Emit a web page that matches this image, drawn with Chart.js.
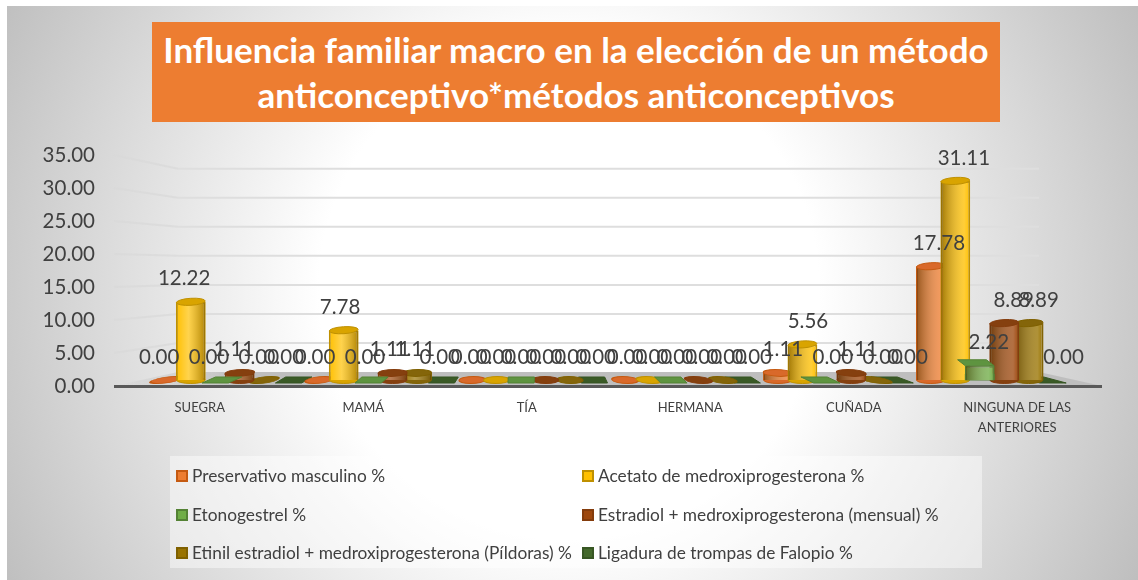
<!DOCTYPE html>
<html lang="es">
<head>
<meta charset="utf-8">
<title>Influencia familiar macro</title>
<script src="https://cdn.jsdelivr.net/npm/chart.js@4"></script>
<style>
html, body { margin: 0; padding: 0; background: #fff; width: 1138px; height: 580px; overflow: hidden; }
#bg { position: absolute; left: 7px; top: 6px; width: 1131px; height: 574px;
      background: radial-gradient(circle at 562px 284px, #fff 0, #fff 250px, #bebebe 640px); }
#myChart { position: absolute; left: 0; top: 0; }
#title { position: absolute; left: 152px; top: 22px; width: 848px; height: 100px; background: #ED7D31;
         color: #fff; font: bold 35px/45px Lato, sans-serif; text-align: center; padding-top: 5px; box-sizing: border-box; white-space: nowrap; }
#legend { position: absolute; left: 170px; top: 456px; width: 812px; height: 112px; background: rgba(255,255,255,0.45);
          font: 17.3px Lato, sans-serif; color: #404040; }
#legend div { position: absolute; white-space: nowrap; line-height: 20px; }
#legend i { position: absolute; width: 8px; height: 8px; border-width: 2px; border-style: solid; }
</style>
</head>
<body>
<div id="bg"></div>
<canvas id="myChart" width="1138" height="580"></canvas>
<div id="title">Influencia familiar macro en la elección de un método<br>anticonceptivo*métodos anticonceptivos</div>
<div id="legend"></div>
<script>
var categories = ["SUEGRA", "MAMÁ", "TÍA", "HERMANA", "CUÑADA", ["NINGUNA DE LAS", "ANTERIORES"]];
var yTicks = [0, 5, 10, 15, 20, 25, 30, 35];

var preservativo = [0, 0, 0, 0, 1.11, 17.78];
var acetato = [12.22, 7.78, 0, 0, 5.56, 31.11];
var etonogestrel = [0, 0, 0, 0, 0, 2.22];
var estradiol = [1.11, 1.11, 0, 0, 1.11, 8.89];
var etinil = [0, 1.11, 0, 0, 0, 8.89];
var ligadura = [0, 0, 0, 0, 0, 0];

var seriesNames = [
    "Preservativo masculino %",
    "Acetato de medroxiprogesterona %",
    "Etonogestrel %",
    "Estradiol + medroxiprogesterona (mensual) %",
    "Etinil estradiol + medroxiprogesterona (Píldoras) %",
    "Ligadura de trompas de Falopio %",
];
var seriesValues = [preservativo, acetato, etonogestrel, estradiol, etinil, ligadura];
var fillColors = ["#ED7D31", "#FFC000", "#70AD47", "#9E480E", "#997300", "#43682B"];
var edgeColors = ["#C55A11", "#BF9000", "#548235", "#843C0C", "#7F6000", "#375623"];
var capColors = ["#D9692A", "#D9A400", "#5E9440", "#85400F", "#84650A", "#3A5A26"];
// green and ligadura are square columns in the original, the rest are cylinders
var isBox = [false, false, true, false, false, true];
// painting order, back to front
var drawOrder = [5, 0, 1, 4, 3, 2];

var centerX = 528;

// cap on a column: skew says how much the perspective leans it, 1 for flat marks
function drawCap(c, i, x, y, w, skew, tilt) {
    var k = -(centerX - x) * 0.05 / 7 * skew;
    c.save();
    c.fillStyle = capColors[i];
    c.strokeStyle = edgeColors[i];
    c.lineWidth = 1;
    c.beginPath();
    if (isBox[i]) {
        var d = 6;
        var s = -k * d;
        c.moveTo(x - w / 2, y);
        c.lineTo(x + w / 2, y);
        c.lineTo(x + w / 2 + s, y - d);
        c.lineTo(x - w / 2 + s, y - d);
        c.closePath();
    } else {
        c.translate(x, y);
        c.transform(1, 0, k, 1, 0, 0);
        c.ellipse(0, 0, w / 2, 3.5, tilt, 0, Math.PI * 2);
    }
    c.fill();
    c.stroke();
    c.restore();
}

// light and shadow across a cylinder
function drawShade(c, x, top, bottom, w) {
    var g = c.createLinearGradient(x - w / 2, 0, x + w / 2, 0);
    if (x < centerX) {
        g.addColorStop(0, "rgba(255,255,255,0)");
        g.addColorStop(0.42, "rgba(255,255,255,0.3)");
        g.addColorStop(1, "rgba(60,40,0,0.4)");
    } else {
        g.addColorStop(0, "rgba(60,40,0,0.5)");
        g.addColorStop(0.8, "rgba(255,255,255,0.22)");
        g.addColorStop(1, "rgba(255,255,255,0)");
    }
    c.fillStyle = g;
    c.fillRect(x - w / 2 + 1, top, w - 2, bottom - top);
}

var scenePlugin = {
    id: "scene",
    beforeDatasetsDraw: function (chart) {
        var c = chart.ctx;
        var yAxis = chart.scales.y;
        var zero = yAxis.getPixelForValue(0);
        var floorBack = zero - 14;

        // floor
        var floor = c.createLinearGradient(114, 0, 240, 0);
        floor.addColorStop(0, "rgba(190,190,190,0)");
        floor.addColorStop(1, "rgba(190,190,190,1)");
        c.fillStyle = floor;
        c.beginPath();
        c.moveTo(114, zero);
        c.lineTo(178, floorBack);
        c.lineTo(1039, floorBack);
        c.lineTo(1102, zero);
        c.closePath();
        c.fill();

        // gridlines with the short side wall on the left
        c.lineWidth = 2;
        yTicks.forEach(function (t) {
            if (t === 0) return;
            var front = yAxis.getPixelForValue(t);
            var back = floorBack - (zero - front) * 0.88;
            c.strokeStyle = "rgba(217,217,217,0.7)";
            c.beginPath();
            c.moveTo(114, front);
            c.lineTo(178, back);
            c.stroke();
            c.strokeStyle = "#DEDEDE";
            c.beginPath();
            c.moveTo(178, back);
            c.lineTo(1039, back);
            c.stroke();
        });

        // columns
        drawOrder.forEach(function (i) {
            chart.getDatasetMeta(i).data.forEach(function (bar, n) {
                var w = bar.width;
                var v = seriesValues[i][n];
                if (v > 0) {
                    var tall = v > 5;
                    drawCap(c, i, bar.x, bar.base, w - 1, 0, 0);
                    bar.draw(c);
                    drawShade(c, bar.x, bar.y, bar.base, w);
                    drawCap(c, i, bar.x, bar.y, w - 1, tall ? 0 : 0.4, tall ? -0.06 : 0);
                } else {
                    drawCap(c, i, bar.x, bar.base + (isBox[i] ? 3 : 0), w * 0.88, 1, 0);
                }
            });
        });

        // floor edge
        c.fillStyle = "#595959";
        c.fillRect(114, zero - 1, 988, 3);

        // value labels
        c.fillStyle = "#404040";
        c.font = "20.5px Lato, sans-serif";
        c.textAlign = "center";
        c.textBaseline = "middle";
        seriesValues.forEach(function (values, i) {
            chart.getDatasetMeta(i).data.forEach(function (bar, n) {
                var lx = bar.x + (bar.x - centerX) * 0.02;
                c.fillText(values[n].toFixed(2), lx, bar.y - 23);
            });
        });
        return false;
    },
};

var datasets = seriesNames.map(function (name, i) {
    return {
        label: name,
        data: seriesValues[i].map(function (v, n) { return { x: n, y: v }; }),
        backgroundColor: fillColors[i],
        borderColor: edgeColors[i],
        borderWidth: 2,
        xAxisID: "xBars",
        yAxisID: "yBars",
        // bar width is figured from the smallest tick gap on xBars (5 to 5.7), hence over 1
        categoryPercentage: 1.37,
        barPercentage: 1.22,
    };
});

var ctx = document.getElementById("myChart").getContext("2d");

var myChart = new Chart(ctx, {
    type: "bar",
    data: { labels: categories, datasets: datasets },
    plugins: [scenePlugin],
    options: {
        responsive: false,
        animation: false,
        layout: { padding: { left: 0, right: 39, top: 155, bottom: 0 } },
        plugins: { legend: { display: false }, title: { display: false }, tooltip: { enabled: false } },
        scales: {
            x: {
                type: "category",
                offset: true,
                grid: { display: false },
                border: { display: false },
                ticks: {
                    color: "#404040",
                    font: { family: "Lato, sans-serif", size: 13, lineHeight: 1.54 },
                    padding: 4,
                    maxRotation: 0,
                    autoSkip: false,
                },
                afterFit: function (scale) { scale.height = 194; },
            },
            y: {
                min: 0,
                max: 35,
                grid: { display: false },
                border: { display: false },
                ticks: {
                    stepSize: 5,
                    color: "#404040",
                    font: { family: "Lato, sans-serif", size: 20.5 },
                    padding: 15,
                    callback: function (v) { return v.toFixed(2); },
                },
                afterFit: function (scale) { scale.width = 118; },
            },
            // the columns sit on a narrower, shifted plane than the labels
            xBars: { type: "linear", display: false, offset: false, min: -0.716, max: 5.7, ticks: { stepSize: 1 } },
            yBars: { type: "linear", display: false, min: -0.94, max: 35.16 },
        },
    },
});

// legend
var legend = document.getElementById("legend");
seriesNames.forEach(function (name, i) {
    var col = i % 2, row = Math.floor(i / 2);
    var swatch = document.createElement("i");
    swatch.style.left = (col ? 412 : 6) + "px";
    swatch.style.top = (14 + row * 38.5) + "px";
    swatch.style.background = fillColors[i];
    swatch.style.borderColor = edgeColors[i];
    legend.appendChild(swatch);
    var text = document.createElement("div");
    text.textContent = name;
    text.style.left = (col ? 428 : 22) + "px";
    text.style.top = (10 + row * 38.5) + "px";
    legend.appendChild(text);
});
</script>
</body>
</html>
